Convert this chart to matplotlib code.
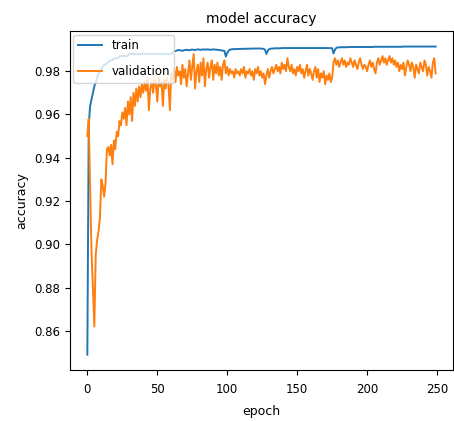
import matplotlib
matplotlib.use("Agg")
import matplotlib.pyplot as plt

# training history (250 epochs)
train_acc = [
    0.849, 0.955, 0.964, 0.967, 0.970, 0.973, 0.975, 0.977, 0.979, 0.980,
    0.981, 0.982, 0.983, 0.983, 0.984, 0.984, 0.985, 0.985, 0.985, 0.986,
    0.986, 0.986, 0.986, 0.987, 0.987, 0.987, 0.987, 0.987, 0.987, 0.987,
    0.988, 0.988, 0.988, 0.988, 0.988, 0.988, 0.988, 0.988, 0.988, 0.988,
    0.988, 0.988, 0.988, 0.988, 0.988, 0.988, 0.988, 0.988, 0.988, 0.988,
    0.988, 0.988, 0.988, 0.988, 0.988, 0.988, 0.988, 0.988, 0.988, 0.988,
    0.988, 0.9885, 0.9895, 0.9893, 0.9896, 0.9898, 0.9897, 0.9896, 0.9894, 0.9897,
    0.9898, 0.9899, 0.9898, 0.9897, 0.9899, 0.9900, 0.9899, 0.9898, 0.9900, 0.9901,
    0.9900, 0.9899, 0.9900, 0.9901, 0.9900, 0.9900, 0.9901, 0.9900, 0.9899, 0.9900,
    0.9901, 0.9900, 0.9900, 0.9899, 0.9898, 0.9897, 0.9896, 0.9895, 0.9894, 0.9868,
    0.9885, 0.9895, 0.9900, 0.9901, 0.9902, 0.9902, 0.9903, 0.9902, 0.9903, 0.9903,
    0.9903, 0.9904, 0.9903, 0.9904, 0.9904, 0.9904, 0.9904, 0.9905, 0.9904, 0.9905,
    0.9905, 0.9905, 0.9905, 0.9905, 0.9905, 0.9904, 0.9903, 0.9900, 0.9880, 0.9895,
    0.9902, 0.9904, 0.9905, 0.9905, 0.9906, 0.9906, 0.9906, 0.9906, 0.9906, 0.9907,
    0.9907, 0.9907, 0.9907, 0.9907, 0.9907, 0.9907, 0.9907, 0.9907, 0.9907, 0.9907,
    0.9907, 0.9907, 0.9907, 0.9907, 0.9907, 0.9907, 0.9907, 0.9907, 0.9907, 0.9907,
    0.9907, 0.9907, 0.9907, 0.9907, 0.9907, 0.9907, 0.9907, 0.9907, 0.9907, 0.9907,
    0.9907, 0.9907, 0.9907, 0.9907, 0.9907, 0.9906, 0.9882, 0.9900, 0.9908, 0.9910,
    0.9910, 0.9911, 0.9911, 0.9911, 0.9911, 0.9911, 0.9911, 0.9912, 0.9912, 0.9912,
    0.9912, 0.9912, 0.9912, 0.9912, 0.9912, 0.9912, 0.9912, 0.9912, 0.9912, 0.9912,
    0.9912, 0.9912, 0.9912, 0.9912, 0.9912, 0.9913, 0.9913, 0.9913, 0.9913, 0.9913,
    0.9913, 0.9913, 0.9913, 0.9913, 0.9913, 0.9913, 0.9913, 0.9913, 0.9913, 0.9913,
    0.9913, 0.9913, 0.9913, 0.9913, 0.9913, 0.9913, 0.9914, 0.9914, 0.9914, 0.9914,
    0.9914, 0.9914, 0.9914, 0.9914, 0.9914, 0.9914, 0.9914, 0.9914, 0.9914, 0.9914,
    0.9914, 0.9914, 0.9914, 0.9914, 0.9914, 0.9914, 0.9914, 0.9914, 0.9914, 0.9914,
]

val_acc = [
    0.950, 0.958, 0.925, 0.896, 0.880, 0.862, 0.895, 0.902, 0.906, 0.912,
    0.930, 0.927, 0.922, 0.928, 0.944, 0.945, 0.941, 0.946, 0.937, 0.948,
    0.944, 0.952, 0.950, 0.957, 0.955, 0.961, 0.958, 0.963, 0.955, 0.966,
    0.960, 0.968, 0.957, 0.970, 0.964, 0.972, 0.966, 0.973, 0.968, 0.974,
    0.970, 0.975, 0.971, 0.976, 0.962, 0.972, 0.975, 0.970, 0.976, 0.974,
    0.966, 0.977, 0.973, 0.975, 0.964, 0.976, 0.972, 0.977, 0.974, 0.962,
    0.979, 0.976, 0.981, 0.975, 0.982, 0.978, 0.980, 0.974, 0.983, 0.977,
    0.981, 0.973, 0.979, 0.985, 0.976, 0.982, 0.988, 0.972, 0.980, 0.983,
    0.975, 0.984, 0.978, 0.986, 0.973, 0.981, 0.984, 0.977, 0.982, 0.985,
    0.976, 0.983, 0.979, 0.984, 0.978, 0.982, 0.976, 0.983, 0.985, 0.979,
    0.982, 0.978, 0.981, 0.979, 0.980, 0.977, 0.981, 0.979, 0.980, 0.978,
    0.981, 0.979, 0.982, 0.977, 0.980, 0.979, 0.981, 0.978, 0.980, 0.976,
    0.981, 0.979, 0.982, 0.978, 0.980, 0.977, 0.979, 0.974, 0.978, 0.981,
    0.977, 0.980, 0.982, 0.979, 0.981, 0.983, 0.980, 0.982, 0.979, 0.984,
    0.981, 0.983, 0.980, 0.986, 0.982, 0.980, 0.983, 0.979, 0.981, 0.978,
    0.982, 0.980, 0.983, 0.979, 0.981, 0.977, 0.980, 0.983, 0.978, 0.981,
    0.979, 0.976, 0.980, 0.982, 0.977, 0.981, 0.975, 0.979, 0.977, 0.980,
    0.974, 0.978, 0.976, 0.979, 0.975, 0.977, 0.984, 0.986, 0.983, 0.985,
    0.982, 0.984, 0.986, 0.983, 0.985, 0.982, 0.984, 0.983, 0.986, 0.984,
    0.982, 0.985, 0.983, 0.981, 0.984, 0.986, 0.983, 0.981, 0.983, 0.982,
    0.980, 0.983, 0.985, 0.982, 0.984, 0.981, 0.979, 0.984, 0.986, 0.983,
    0.985, 0.987, 0.984, 0.986, 0.983, 0.985, 0.987, 0.984, 0.986, 0.983,
    0.985, 0.982, 0.984, 0.980, 0.983, 0.981, 0.984, 0.978, 0.982, 0.985,
    0.983, 0.980, 0.984, 0.982, 0.977, 0.983, 0.981, 0.979, 0.984, 0.982,
    0.980, 0.985, 0.983, 0.978, 0.982, 0.980, 0.977, 0.984, 0.986, 0.979,
]

epochs = list(range(len(train_acc)))

fig = plt.figure(figsize=(4.54, 4.21), dpi=100)
ax = fig.add_axes([0.154, 0.121, 0.844, 0.805])

ax.plot(epochs, train_acc, color='#1f77b4', lw=1.4, label='train')
ax.plot(epochs, val_acc, color='#ff7f0e', lw=1.4, label='validation')

ax.set_title('model accuracy', fontsize=10)
ax.set_ylabel('accuracy', fontsize=9)
ax.set_xlabel('epoch', fontsize=9, labelpad=6)
ax.set_yticks([0.86, 0.88, 0.90, 0.92, 0.94, 0.96, 0.98])
ax.tick_params(labelsize=8.5)
ax.tick_params(axis='x', pad=6)
ax.legend(loc='upper left', fontsize=8.5, labelspacing=1.1, borderaxespad=0.3)

fig.savefig('out.png', dpi=100)
